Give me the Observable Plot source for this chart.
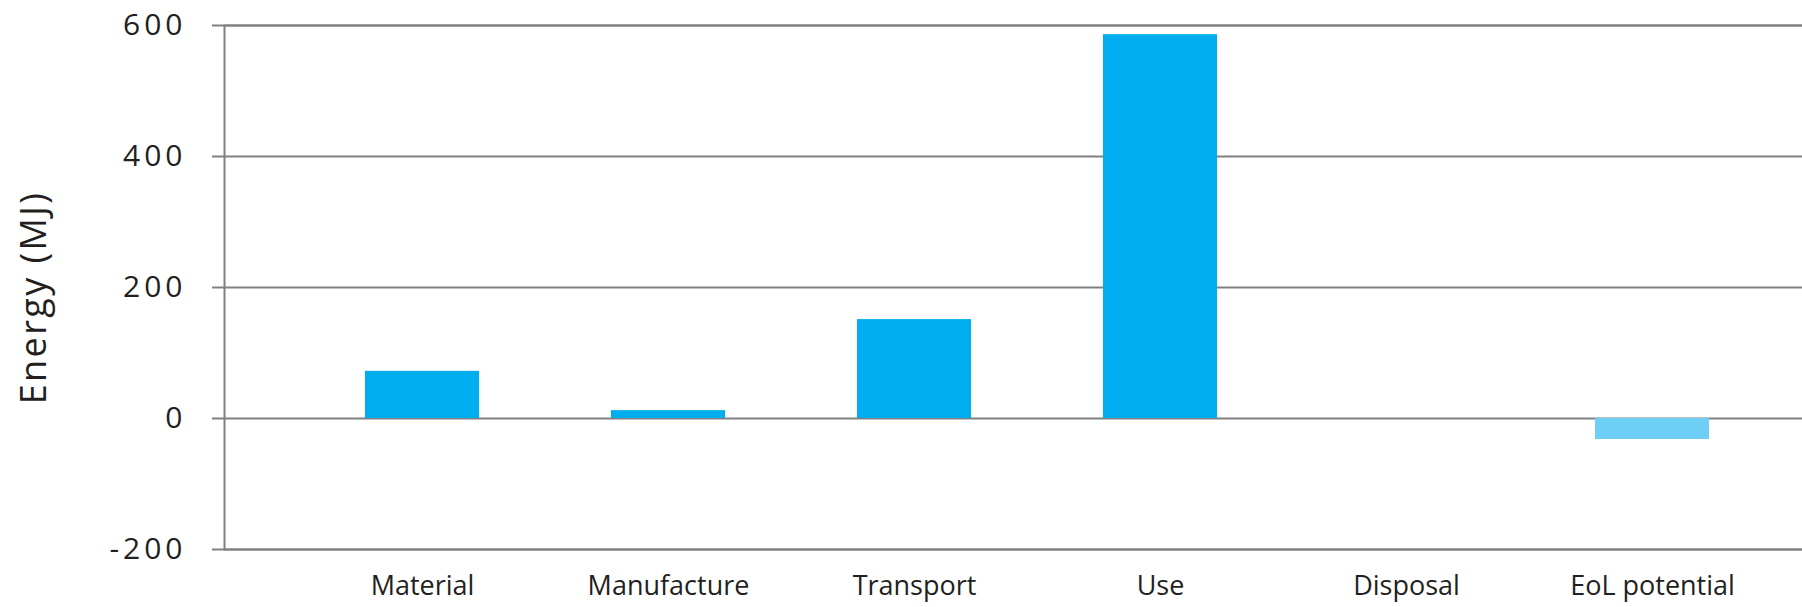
<!DOCTYPE html>
<html>
<head>
<meta charset="utf-8">
<script src="https://cdn.jsdelivr.net/npm/d3@7"></script>
<script src="https://cdn.jsdelivr.net/npm/@observablehq/plot@0.6"></script>
<style>
  html, body { margin: 0; padding: 0; background: #ffffff; }
  #chart svg { display: block; }
  g[aria-label="y-axis tick label"] text { letter-spacing: 4px; }
  g[aria-label="text"] text { letter-spacing: 2.4px; }
</style>
</head>
<body>
<div id="chart"></div>
<script>
const stages = ["Material", "Manufacture", "Transport", "Use", "Disposal", "EoL potential"];
const energy = [72, 12, 151, 586, 0, -32];
const yTicks = [-200, 0, 200, 400, 600];
const yLabel = "Energy (MJ)";

const data = stages.map((s, i) => ({stage: s, energy: energy[i]}));

const gray = "#808080";
const textColor = "#231f20";

const chart = Plot.plot({
  width: 1802,
  height: 607,
  marginLeft: 224,
  marginRight: 0,
  marginTop: 25,
  marginBottom: 58,
  style: {fontFamily: "'Open Sans', sans-serif", color: textColor, background: "#ffffff"},
  x: {
    type: "band",
    domain: stages,
    range: [298, 1775],
    paddingInner: 0.537,
    paddingOuter: 0.2685,
    align: 0.5
  },
  y: {domain: [-200, 600]},
  marks: [
    Plot.ruleY(yTicks, {stroke: gray, strokeWidth: 2}),
    Plot.frame({stroke: gray, strokeWidth: 2, insetRight: -4}),
    Plot.barY(data, {filter: d => d.energy >= 0, x: "stage", y: "energy", fill: "#00aeef"}),
    Plot.barY(data, {filter: d => d.energy < 0, x: "stage", y: "energy", fill: "#6dcff6"}),
    Plot.axisY({
      ticks: yTicks,
      tickSize: 12,
      tickPadding: 26,
      tickFormat: d => String(d),
      stroke: gray,
      strokeWidth: 2,
      fill: textColor,
      fontSize: 30,
      label: null
    }),
    Plot.axisX({
      tickSize: 0,
      tickPadding: 26,
      fill: textColor,
      fontSize: 27,
      label: null
    }),
    Plot.text([yLabel], {
      frameAnchor: "left",
      text: d => d,
      rotate: -90,
      dx: -179,
      dy: 10,
      textAnchor: "middle",
      lineAnchor: "bottom",
      fontSize: 36,
      fill: textColor
    })
  ]
});

document.getElementById("chart").appendChild(chart);
</script>
</body>
</html>
